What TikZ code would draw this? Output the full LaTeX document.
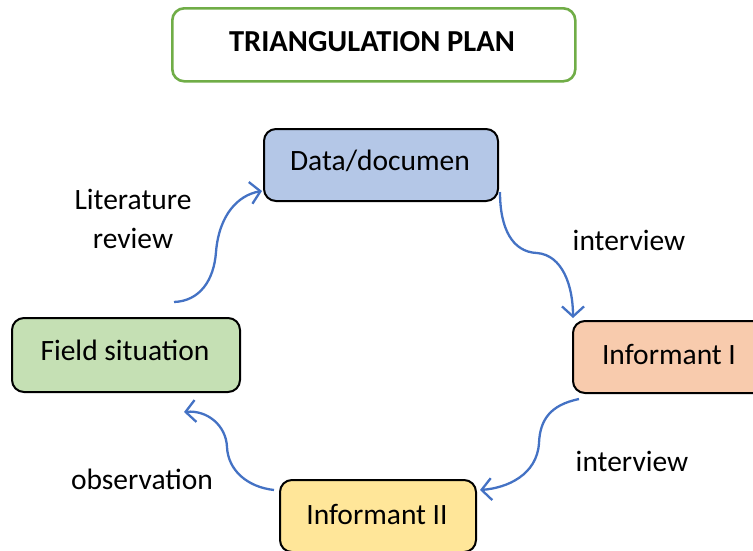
\documentclass[tikz,border=0pt]{standalone}
\usepackage{fontspec}
\setmainfont{Carlito}
\usetikzlibrary{arrows.meta,calc}
\definecolor{bluefill}{HTML}{B4C7E7}
\definecolor{orangefill}{HTML}{F8CBAD}
\definecolor{greenfill}{HTML}{C5E0B4}
\definecolor{yellowfill}{HTML}{FFE699}
\definecolor{titlegreen}{HTML}{70AD47}
\definecolor{arrowblue}{HTML}{4472C4}
\tikzset{
  box/.style={draw=black, line width=2pt, rounded corners=12pt, inner sep=0pt, anchor=north west},
  lbl/.style={font=\fontsize{29.5}{35}\selectfont, inner sep=0pt},
  flow/.style={draw=arrowblue, line width=2.3pt, -{Straight Barb[length=10pt,width=22pt,line width=2.3pt]}},
}
\begin{document}
\begin{tikzpicture}[x=1pt,y=-1pt]
\useasboundingbox (0,0) rectangle (753,550);
\clip (0,0) rectangle (753,550);
\node[box, draw=titlegreen, line width=2.6pt, minimum width=403pt, minimum height=73pt] (title) at (171,7) {};
\node[lbl, font=\fontsize{30.5}{35}\selectfont\bfseries] (titletext) at (372,42) {TRIANGULATION PLAN};
\node[box, fill=bluefill, minimum width=234pt, minimum height=72pt] (data) at (263,128) {};
\node[lbl] (datatext) at (380,161) {Data/documen};
\node[box, fill=orangefill, minimum width=194pt, minimum height=72pt] (inf1) at (572,320) {};
\node[lbl] (inf1text) at (669,354) {Informant I};
\node[box, fill=greenfill, minimum width=228pt, minimum height=74pt] (field) at (11,317) {};
\node[lbl] (fieldtext) at (125,350) {Field situation};
\node[box, fill=yellowfill, minimum width=196pt, minimum height=72pt] (inf2) at (279,479) {};
\node[lbl] (inf2text) at (377,514) {Informant II};
\node[lbl, align=center] (lit) at (133,219) {Literature\\[4pt]review};
\node[lbl] (int1) at (629,240) {interview};
\node[lbl] (int2) at (632,461) {interview};
\node[lbl] (obs) at (142,479) {observation};
\coordinate (a1s) at ($(field.north east)+(-67,-15)$);
\coordinate (a1e) at ($(data.south west)+(-1,-11)$);
\coordinate (a2s) at ($(data.south east)+(1,-10)$);
\coordinate (a2e) at ($(inf1.north west)+(1,-2)$);
\coordinate (a3s) at ($(inf1.south west)+(7,5)$);
\coordinate (a3e) at ($(inf2.north east)+(3,11)$);
\coordinate (a4s) at ($(inf2.north west)+(-5,11)$);
\coordinate (a4e) at ($(field.south east)+(-57,19)$);
\draw[flow] (a1s) .. controls (200,301) and (214,280) .. (216,252) .. controls (219,215) and (238,195) .. (a1e);
\draw[flow] (a2s) .. controls (500,228) and (512,252) .. (537,253) .. controls (562,255) and (573,285) .. (a2e);
\draw[flow] (a3s) .. controls (550,405) and (540,420) .. (539,443) .. controls (537,475) and (507,488) .. (a3e);
\draw[flow] (a4s) .. controls (247,487) and (228,470) .. (227,447) .. controls (226,425) and (207,410) .. (a4e);
\end{tikzpicture}
\end{document}
